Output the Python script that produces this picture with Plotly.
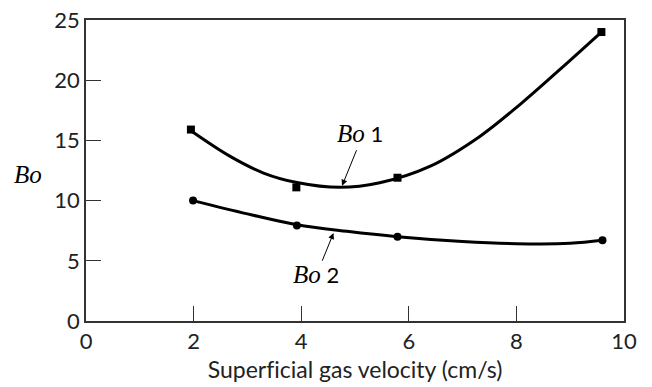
import plotly.graph_objects as go

# Measured data points
bo1_x = [1.95, 3.91, 5.79, 9.58]
bo1_y = [15.9, 11.1, 11.9, 24.0]
bo2_x = [1.99, 3.92, 5.79, 9.6]
bo2_y = [10.0, 7.93, 7.0, 6.7]

# Fitted curves
fit1_x = [1.95, 2.68, 3.30, 3.92, 4.72, 5.46, 6.39, 7.32, 8.07, 8.81, 9.58]
fit1_y = [15.8, 13.67, 12.29, 11.5, 11.1, 11.48, 12.84, 15.33, 18.0, 20.9, 24.0]
fit2_x = [1.99, 3.0, 3.92, 4.85, 5.79, 7.0, 8.0, 9.0, 9.6]
fit2_y = [10.0, 8.9, 8.0, 7.45, 7.0, 6.6, 6.42, 6.45, 6.7]

x_ticks = [0, 2, 4, 6, 8, 10]
y_ticks = [0, 5, 10, 15, 20, 25]

SANS = "Lato"
SERIF = "Liberation Serif"

fig = go.Figure()
fig.add_trace(go.Scatter(x=fit1_x, y=fit1_y, mode="lines", line=dict(color="black", width=3, shape="spline", smoothing=1.0), hoverinfo="skip"))
fig.add_trace(go.Scatter(x=fit2_x, y=fit2_y, mode="lines", line=dict(color="black", width=3, shape="spline", smoothing=1.0), hoverinfo="skip"))
fig.add_trace(go.Scatter(x=bo1_x, y=bo1_y, mode="markers", marker=dict(symbol="square", size=8, color="black")))
fig.add_trace(go.Scatter(x=bo2_x, y=bo2_y, mode="markers", marker=dict(symbol="circle", size=8, color="black")))

lab = lambda n: f"<span style='font-family:{SERIF};font-size:25px'><i>Bo</i></span> {n}"
fig.add_annotation(x=5.09, y=15.56, text=lab(1), showarrow=False, font=dict(family=SANS, size=22, color="black"))
fig.add_annotation(x=4.28, y=3.83, text=lab(2), showarrow=False, font=dict(family=SANS, size=22, color="black"))
fig.add_annotation(x=4.76, y=11.23, ax=5.04, ay=14.31, axref="x", ayref="y", text="", showarrow=True,
                   arrowhead=2, arrowsize=1.2, arrowwidth=1, arrowcolor="black")
fig.add_annotation(x=4.60, y=7.30, ax=4.38, ay=4.88, axref="x", ayref="y", text="", showarrow=True,
                   arrowhead=2, arrowsize=1.2, arrowwidth=1, arrowcolor="black")
fig.add_annotation(xref="paper", x=-0.108, xanchor="center", y=12.15, text="<i>Bo</i>", showarrow=False,
                   font=dict(family=SERIF, size=25, color="black"))

fig.update_layout(
    width=652, height=387,
    margin=dict(l=86, r=28, t=20, b=66, autoexpand=False),
    paper_bgcolor="white", plot_bgcolor="white",
    showlegend=False,
    font=dict(family=SANS, size=22, color="#222"),
)
fig.update_xaxes(range=[0, 10], tickvals=x_ticks, ticks="inside", ticklen=15, tickcolor="#333",
                 showgrid=False, zeroline=False, showline=True, linecolor="#333", linewidth=1.5,
                 mirror=True, ticklabeloverflow="allow", automargin=False,
                 title=dict(text="<span style='font-variant-ligatures:none'>Superficial gas velocity (cm/s)</span>",
                            font=dict(size=23), standoff=9))
fig.update_yaxes(range=[0, 25], tickvals=y_ticks, ticks="inside", ticklen=15, tickcolor="#333",
                 showgrid=False, zeroline=False, showline=True, linecolor="#333", linewidth=1.5,
                 mirror=True, ticklabelstandoff=0, ticklabeloverflow="allow", automargin=False)

fig.write_html("out.html", config={"displayModeBar": False},
               post_script="document.body.style.margin='0';")
